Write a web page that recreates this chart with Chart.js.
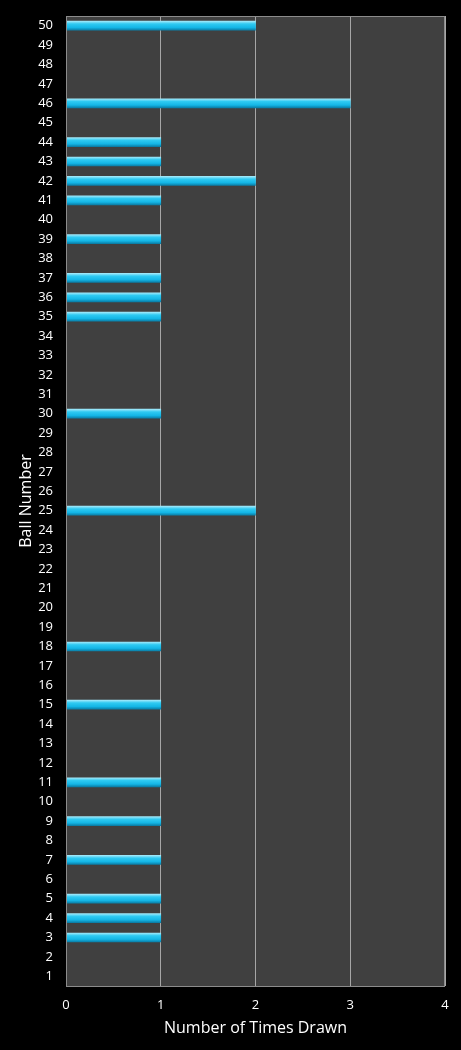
<!DOCTYPE html>
<html>
<head>
<meta charset="utf-8">
<script src="https://cdn.jsdelivr.net/npm/chart.js@4.4.0/dist/chart.umd.min.js"></script>
<style>
  html, body { margin: 0; padding: 0; background: #000; }
  #wrap { width: 461px; height: 1050px; }
</style>
</head>
<body>
<div id="wrap"><canvas id="myChart"></canvas></div>
<script>
// ball numbers, top to bottom
const balls = [];
for (let b = 50; b >= 1; b--) balls.push(String(b));

// balls that were drawn and how many times
const drawnBalls = [50, 46, 44, 43, 42, 41, 39, 37, 36, 35, 30, 25, 18, 15, 11, 9, 7, 5, 4, 3];
const drawnTimes = [2, 3, 1, 1, 2, 1, 1, 1, 1, 1, 1, 2, 1, 1, 1, 1, 1, 1, 1, 1];

const xTicks = [0, 1, 2, 3, 4];

const counts = balls.map(function (b) {
  const i = drawnBalls.indexOf(Number(b));
  return i >= 0 ? drawnTimes[i] : 0;
});

// paint the dark plot box
const plotBg = {
  id: 'plotBg',
  beforeDraw: function (chart) {
    const a = chart.chartArea;
    const ctx = chart.ctx;
    ctx.save();
    ctx.fillStyle = '#404040';
    ctx.fillRect(a.left, a.top, a.right - a.left, a.bottom - a.top);
    ctx.restore();
  },
  afterDraw: function (chart) {
    const a = chart.chartArea;
    const ctx = chart.ctx;
    ctx.save();
    ctx.strokeStyle = '#8c8c8c';
    ctx.lineWidth = 1;
    ctx.strokeRect(a.left + 0.5, a.top + 0.5, a.right - a.left - 1, a.bottom - a.top);
    ctx.restore();
  }
};

function barFill(context) {
  const chart = context.chart;
  const ys = chart.scales && chart.scales.y;
  if (!ys || context.dataIndex === undefined) return '#1ec0ec';
  const y = ys.getPixelForValue(context.dataIndex);
  if (!isFinite(y)) return '#1ec0ec';
  const h = 9;
  const g = chart.ctx.createLinearGradient(0, y - h / 2, 0, y + h / 2);
  g.addColorStop(0, '#9fe8fa');
  g.addColorStop(0.3, '#2fcaf2');
  g.addColorStop(0.7, '#14b6e6');
  g.addColorStop(1, '#0a7fa8');
  return g;
}

const data = {
  labels: balls,
  datasets: [{
    label: 'Number of Times Drawn',
    data: counts,
    backgroundColor: barFill,
    borderWidth: 0,
    barThickness: 9
  }]
};

const config = {
  type: 'bar',
  data: data,
  plugins: [plotBg],
  options: {
    indexAxis: 'y',
    responsive: true,
    maintainAspectRatio: false,
    animation: false,
    layout: { padding: { top: 16, right: 16, bottom: 12, left: 0 } },
    plugins: {
      legend: { display: false },
      tooltip: { enabled: false }
    },
    scales: {
      x: {
        min: 0,
        max: 4,
        afterBuildTicks: function (scale) {
          scale.ticks = xTicks.map(function (v) { return { value: v }; });
        },
        afterFit: function (scale) {
          scale.height = 52;
          scale.paddingLeft = 0;
          scale.paddingRight = 0;
        },
        grid: { color: '#a6a6a6', lineWidth: 1, drawTicks: false },
        border: { display: false },
        ticks: {
          color: '#ffffff',
          padding: 11,
          font: { family: 'Open Sans', size: 13 }
        },
        title: {
          display: true,
          text: 'Number of Times Drawn',
          color: '#ffffff',
          padding: { top: 4, bottom: 0 },
          font: { family: 'Open Sans', size: 16 }
        }
      },
      y: {
        afterFit: function (scale) {
          scale.width = 66;
          scale.paddingTop = 0;
          scale.paddingBottom = 0;
        },
        grid: { display: false, drawTicks: false },
        border: { display: false },
        ticks: {
          color: '#ffffff',
          padding: 13,
          autoSkip: false,
          font: { family: 'Open Sans', size: 13 }
        },
        title: {
          display: true,
          text: 'Ball Number',
          color: '#ffffff',
          padding: { top: 17, bottom: 0 },
          font: { family: 'Open Sans', size: 16 }
        }
      }
    }
  }
};

const myChart = new Chart(
  document.getElementById('myChart'),
  config
);
</script>
</body>
</html>
